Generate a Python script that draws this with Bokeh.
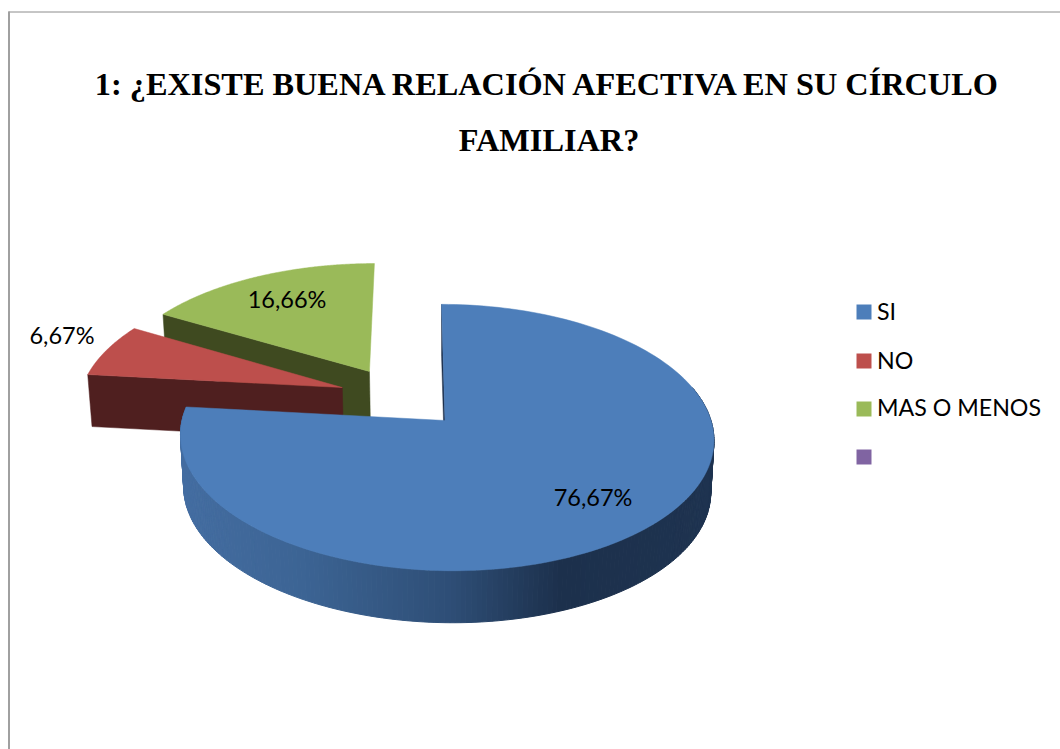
import math
from bokeh.plotting import figure
from bokeh.models import Range1d
from bokeh.core.properties import value
from bokeh.embed import file_html
from bokeh.resources import INLINE

title_lines = ["1: ¿EXISTE BUENA RELACIÓN AFECTIVA EN SU CÍRCULO", "FAMILIAR?"]
categories = ["SI", "NO", "MAS O MENOS", ""]
values = [76.67, 6.67, 16.66, 0]
labels = ["76,67%", "6,67%", "16,66%"]

top_colors = ["#4D7EBA", "#BD4F4C", "#9ABA59", "#8064A2"]
cut_colors = ["#1C2F4B", "#4F1F1F", "#3F4A20"]

# projection of the tilted pie
CX, CY, R, C, K, A, APEX, DEPTH, F = 446, 420, 264.5, 131, 0.128, 0.165, -0.0057, 52, 0.988
offset = [(0, 0), (-0.396, 0.26), (-0.292, 0.393)]
rim_scale = [1.0, 1.022, 1.022]


def project(x, y, lower=False):
    d = 1 + K * y
    sx = (x + A) * R / d - A * R
    sy = y * C / d
    if lower:
        return CX + sx * F, CY - sy + DEPTH
    return CX + sx, CY - sy


p = figure(width=1060, height=749, x_range=Range1d(0, 1060), y_range=Range1d(749, 0),
           output_backend="svg", toolbar_location=None, min_border=0,
           outline_line_color=None, background_fill_color="white", border_fill_color="white")
p.axis.visible = False
p.grid.visible = False

# chart frame
p.segment([8], [11.5], [1060], [11.5], line_color="#8C8C8C", line_width=1)
p.segment([8.5], [11], [8.5], [749], line_color="#A0A0A0", line_width=2)

# wedge angles from the values
total = sum(values)
starts, ends, acc = [], [], 0.0
for v in values[:3]:
    starts.append(acc / total * 2 * math.pi)
    acc += v
    ends.append(acc / total * 2 * math.pi)


def outer(i, t):
    s = rim_scale[i]
    return offset[i][0] + s * math.sin(t), offset[i][1] + s * math.cos(t)


def apex(i):
    return offset[i][0] + APEX, offset[i][1]


def arc(i, n=160, start=None):
    a0 = starts[i] if start is None else start
    return [outer(i, a0 + (ends[i] - a0) * j / n) for j in range(n + 1)]


def wall(a, b, color):
    pts = [project(*a), project(*b), project(*b, lower=True), project(*a, lower=True)]
    p.patch([q[0] for q in pts], [q[1] for q in pts], fill_color=color, line_color=color, line_width=0.5)


def top_face(i):
    pts = [project(*apex(i))] + [project(*q) for q in arc(i)]
    p.patch([q[0] for q in pts], [q[1] for q in pts], fill_color=top_colors[i], line_color=top_colors[i], line_width=0.5)


def rim_color(x):
    stops = [(180, (68, 109, 161)), (300, (60, 100, 148)), (450, (46, 78, 118)), (560, (28, 48, 76)), (715, (30, 51, 80))]
    for (x0, c0), (x1, c1) in zip(stops, stops[1:]):
        if x <= x1:
            u = max(0.0, (x - x0) / (x1 - x0))
            c = [round(c0[k] + (c1[k] - c0[k]) * u) for k in range(3)]
            return "#%02x%02x%02x" % tuple(c)
    return "#1e3350"


# green, then red, then blue on top
wall(outer(2, starts[2]), apex(2), cut_colors[2])
top_face(2)
wall(outer(1, starts[1]), apex(1), cut_colors[1])
top_face(1)

wall(apex(0), outer(0, starts[0]), cut_colors[0])
rim = arc(0, 200, start=math.radians(75))
for q0, q1 in zip(rim, rim[1:]):
    a0, a1 = project(*q0), project(*q1)
    b1, b0 = project(*q1, lower=True), project(*q0, lower=True)
    col = rim_color((a0[0] + a1[0]) / 2)
    p.patch([a0[0], a1[0], b1[0], b0[0]], [a0[1], a1[1], b1[1], b0[1]],
            fill_color=col, line_color=col, line_width=1)
top_face(0)

# title
for line, y in zip(title_lines, [83, 139]):
    p.text([548.5], [y], text=[line], text_font=value("Liberation Serif"), text_font_style="bold",
           text_font_size="32.3px", text_align="center", text_baseline="middle", text_color="#000000")

# data labels
for lab, x, y in zip(labels, [592.5, 61.5, 286.5], [496, 334, 298]):
    p.text([x], [y], text=[lab], text_font=value("Lato"), text_font_size="23.5px",
           text_align="center", text_baseline="middle", text_color="#000000")

# legend
for cat, col, y, ty in zip(categories, top_colors, [311.5, 360.5, 408.5, 456.5], [310.5, 359.5, 406.5, 455]):
    p.quad(left=[856], right=[871], top=[y - 7.5], bottom=[y + 7.5], fill_color=col, line_color=None)
    if cat:
        p.text([876.5], [ty], text=[cat], text_font=value("Lato"), text_font_size="23.2px",
               text_align="left", text_baseline="middle", text_color="#000000")

open("out.html", "w").write(file_html(p, INLINE))
